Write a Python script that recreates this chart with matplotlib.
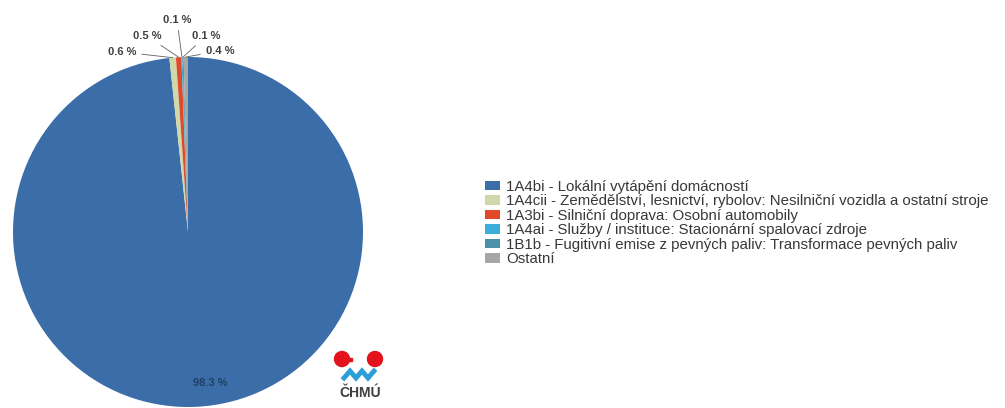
"""Pie chart: emission sources share (ČHMÚ style) with legend on the right."""

import matplotlib

matplotlib.use("Agg")
import matplotlib.patches as mpatches
import matplotlib.pyplot as plt
import numpy as np

plt.rcParams["font.family"] = ["Liberation Sans", "DejaVu Sans"]

categories = [
    "1A4bi - Lokální vytápění domácností",
    "1A4cii - Zemědělství, lesnictví, rybolov: Nesilniční vozidla a ostatní stroje",
    "1A3bi - Silniční doprava: Osobní automobily",
    "1A4ai - Služby / instituce: Stacionární spalovací zdroje",
    "1B1b - Fugitivní emise z pevných paliv: Transformace pevných paliv",
    "Ostatní",
]
shares = [98.3, 0.6, 0.5, 0.1, 0.1, 0.4]
pct_labels = ["98.3 %", "0.6 %", "0.5 %", "0.1 %", "0.1 %", "0.4 %"]
colors = ["#3b6ea8", "#cfd8a8", "#e04a2a", "#3aaed8", "#4a90a6", "#a6a6a6"]

W, H = 1005, 408
fig = plt.figure(figsize=(W / 100, H / 100), dpi=100)
ax = fig.add_axes([0, 0, 1, 1])

cx, cy, r = 188, H - 232, 175
wedges, _ = ax.pie(shares, colors=colors, startangle=90, counterclock=False,
                   center=(cx, cy), radius=r, wedgeprops=dict(linewidth=0))
ax.set_xlim(0, W)
ax.set_ylim(0, H)
ax.set_aspect("equal")
ax.set_axis_off()

# big slice label inside, near bottom
ax.text(210, H - 383, pct_labels[0], ha="center", va="center", fontsize=8,
        fontweight="bold", color="#1f3f66")

# small slice labels with leader lines
label_pos = [None, (122, H - 52), (147, H - 36), (177, H - 20), (206, H - 36), (220, H - 51)]
for w, lab, pos in zip(wedges[1:], pct_labels[1:], label_pos[1:]):
    ang = np.deg2rad((w.theta1 + w.theta2) / 2)
    px, py = cx + r * np.cos(ang), cy + r * np.sin(ang)
    ax.annotate(lab, xy=(px, py), xytext=pos, ha="center", va="center", fontsize=8,
                fontweight="bold", color="#404040",
                arrowprops=dict(arrowstyle="-", color="#606060", lw=0.6,
                                shrinkA=2, shrinkB=0))

ax.legend(wedges, categories, loc="upper left",
          bbox_to_anchor=(485 / W, 1 - 180 / H), frameon=False, fontsize=10.8,
          handlelength=1.0, handleheight=0.6, handletextpad=0.4,
          labelspacing=0.03, borderaxespad=0, borderpad=0, labelcolor="#383838")

# ČHMÚ logo
ax.add_patch(mpatches.Circle((342, H - 359), 7.5, color="#e3121b"))
ax.add_patch(mpatches.Rectangle((348, H - 361), 4, 3, color="#e3121b"))
ax.add_patch(mpatches.Circle((375, H - 359), 7.5, color="#e3121b"))
wx = [344, 350, 356, 362, 368, 374]
wy = [H - 378, H - 371, H - 378, H - 371, H - 378, H - 371]
ax.plot(wx, wy, color="#2a9fd8", lw=3.5, solid_joinstyle="miter")
ax.text(360, H - 393, "ČHMÚ", ha="center", va="center", fontsize=10,
        fontweight="bold", color="#404040")

fig.savefig("out.png", dpi=100)
